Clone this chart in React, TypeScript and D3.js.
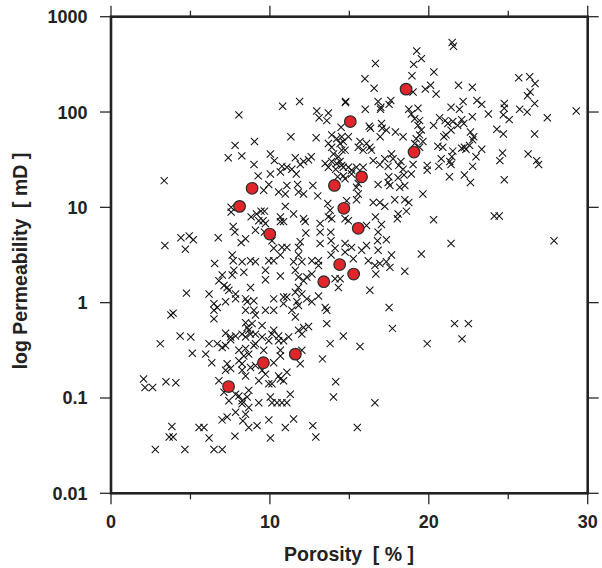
import React from "react";
import * as d3 from "d3";

// Sample data: porosity [%] and log10 permeability [mD]
const porosity: number[] = [
  8.05, 10.8, 11.87, 14.75, 12.95, 13.68, 13.1, 13.58, 14.48, 11.32, 12.91, 7.81, 9.03, 7.38, 8.23, 9.0, 10.03, 10.28, 9.26, 10.03,
  10.76, 11.07, 11.38, 11.6, 11.66, 11.91, 12.12, 12.43, 12.6, 13.89, 13.68, 13.89, 14.2, 14.62, 14.73, 14.0, 14.31, 13.48, 13.89, 14.2,
  14.52, 13.68, 14.14, 14.62, 3.35,
  21.47, 21.55, 19.24, 19.53, 19.05, 16.64, 20.32, 15.98, 18.94, 16.56, 19.01, 19.78, 20.11, 20.46, 21.87, 22.74, 25.66, 26.35, 26.69, 26.38,
  26.21, 26.66, 25.72, 26.19, 27.46, 29.28, 14.77, 16.0, 16.81, 16.98, 17.5, 17.61, 16.96, 18.74, 18.9, 19.32, 19.11, 19.42, 16.25, 16.33,
  17.02, 17.06, 16.94, 17.33, 17.9, 18.38, 19.32, 19.53, 19.42, 19.21, 19.63, 19.42, 19.11, 20.3, 20.68, 21.03, 21.4, 21.93, 22.16, 22.74,
  23.03, 23.33, 23.75, 21.2, 21.51, 21.82, 22.07, 22.2, 21.4, 21.09, 20.95, 24.75, 24.75, 24.69, 25.06, 24.28, 24.69, 26.66, 22.62, 22.83,
  22.76, 22.56, 22.24, 22.07, 22.34, 23.33, 20.57, 20.88, 21.51, 21.45, 20.78, 20.63, 21.32, 21.4, 22.97, 22.76, 22.24, 21.3, 19.9, 19.9,
  19.01, 18.38, 18.9, 18.44, 18.11, 18.24, 17.75, 17.65, 17.23, 17.44, 16.92, 16.5, 16.39, 15.87, 15.87, 15.67, 16.08, 16.29, 15.56, 14.94,
  14.52, 14.42, 14.52, 14.62, 14.94, 15.14, 15.45, 14.42, 24.64, 24.47, 24.75, 26.25, 26.79, 26.91, 17.48,
  3.39, 4.4, 4.92, 5.18, 4.68, 6.75, 10.66, 9.93, 9.61, 10.55, 10.97, 11.07, 11.74, 11.8, 12.12, 12.7, 13.01, 13.64, 14.26, 14.73,
  7.56, 7.56, 8.82, 9.16, 9.44, 9.66, 9.3, 9.57, 9.72, 10.66, 10.86, 10.66, 10.97, 11.49, 12.12, 12.22, 13.16, 13.79, 13.89, 13.68,
  14.73, 7.69, 7.8, 8.19, 8.47, 9.09, 9.66, 10.13, 10.24, 10.76, 11.07, 11.8, 11.91, 12.26, 13.16, 13.16, 13.83, 13.85, 14.1, 14.73,
  13.85, 14.73, 6.52, 7.63, 7.69, 8.25, 8.78, 9.09, 9.93, 10.24, 10.66, 11.49, 11.8, 12.01, 12.64, 13.06, 13.06, 7.0, 6.79, 7.73,
  7.63, 8.36, 9.72, 9.72, 10.66, 11.6, 11.8, 12.12, 12.32, 12.64, 14.1, 14.31, 4.75, 6.17, 7.11, 7.31, 7.42, 7.84, 7.84, 8.78,
  7.21, 6.48, 6.69, 6.48, 6.48, 8.47, 8.57, 8.99, 8.47, 8.99, 9.09, 9.72, 10.24, 10.24, 10.86, 11.07, 10.86, 11.6, 11.8, 12.01,
  11.7, 11.8, 12.32, 12.64, 13.06, 13.48, 13.58, 13.58, 11.38, 11.6, 3.77, 3.91, 4.35, 5.02, 7.21, 7.53, 7.84, 8.47, 8.57, 8.88,
  8.67, 9.09, 9.51, 10.24, 10.55, 11.18, 11.8, 12.12, 12.43, 12.01, 8.47, 14.62,
  15.14, 15.56, 15.45, 15.56, 15.45, 14.83, 16.81, 17.44, 17.55, 18.07, 18.49, 18.17, 22.62, 19.63, 16.5, 16.92, 17.23, 17.86, 18.49, 18.74,
  18.59, 18.07, 18.02, 16.64, 17.02, 16.81, 16.77, 17.33, 16.08, 14.94, 15.14, 15.77, 16.08, 16.81, 17.65, 16.19, 16.61, 16.92, 17.33, 17.55,
  16.67, 18.49, 19.53, 21.4, 20.3, 24.12, 24.43, 27.88, 15.25, 14.42, 16.29, 17.5, 17.71, 21.62, 22.49, 22.09,
  3.1, 5.12, 6.17, 5.96, 6.34, 6.69, 7.0, 7.21, 7.53, 8.25, 8.78, 9.09, 8.47, 8.05, 8.36, 8.67, 8.99, 9.51, 10.13, 9.93,
  10.55, 10.86, 12.01, 11.91, 10.66, 10.66, 10.24, 9.61, 13.79, 13.31, 7.31, 7.21, 7.53, 8.25, 8.47, 8.25, 8.05, 8.78, 9.09, 9.51,
  9.3, 9.72, 10.55, 10.66, 11.07, 10.86, 10.13, 9.93, 6.79, 7.11, 7.42, 7.84, 8.05, 8.25, 8.67, 8.57, 8.25, 8.67, 8.47, 7.84,
  7.31, 6.99, 8.3, 8.67, 9.19, 9.93, 9.3, 10.03, 10.13, 10.45, 10.76, 11.07, 11.28, 11.49, 10.97, 10.03, 7.8, 6.17, 5.54, 5.85,
  3.83, 3.66, 3.91, 2.79, 4.65, 6.48, 7.0, 12.7, 12.89, 14.0, 14.14, 2.05, 2.14, 2.62, 3.46, 4.08,
  15.67, 19.9, 16.61, 15.5,
];

const logPermeability: number[] = [
  1.97, 2.06, 2.11, 2.1, 2.01, 1.99, 1.94, 1.91, 1.84, 1.74, 1.73, 1.65, 1.69, 1.52, 1.54, 1.45, 1.56, 1.49, 1.33, 1.35,
  1.43, 1.42, 1.4, 1.52, 1.35, 1.45, 1.48, 1.5, 1.53, 1.76, 1.67, 1.63, 1.72, 1.69, 1.6, 1.56, 1.53, 1.46, 1.48, 1.46,
  1.44, 1.42, 1.4, 1.33, 1.28,
  2.73, 2.69, 2.64, 2.56, 2.5, 2.51, 2.42, 2.35, 2.38, 2.25, 2.21, 2.24, 2.28, 2.19, 2.28, 2.26, 2.36, 2.37, 2.3, 2.21,
  2.17, 2.09, 2.03, 2.0, 1.94, 2.01, 2.11, 2.03, 2.11, 2.05, 2.08, 2.12, 2.03, 2.03, 1.98, 2.04, 1.93, 1.91, 1.85, 1.83,
  1.88, 1.83, 1.74, 1.81, 1.79, 1.74, 1.86, 1.81, 1.76, 1.72, 1.69, 1.63, 1.67, 1.86, 1.94, 1.91, 2.05, 2.03, 2.11, 1.95,
  2.12, 2.08, 1.98, 1.88, 1.9, 1.86, 1.92, 1.88, 1.81, 1.76, 1.74, 2.09, 2.04, 1.97, 1.92, 1.82, 1.77, 1.77, 1.79, 1.74,
  1.71, 1.65, 1.63, 1.62, 1.61, 1.61, 1.64, 1.63, 1.59, 1.53, 1.51, 1.43, 1.48, 1.45, 1.53, 1.43, 1.34, 1.32, 1.44, 1.39,
  1.45, 1.4, 1.35, 1.34, 1.44, 1.48, 1.51, 1.56, 1.51, 1.43, 1.45, 1.49, 1.6, 1.6, 1.42, 1.69, 1.67, 1.63, 1.63, 1.74,
  1.74, 1.67, 1.6, 1.42, 1.42, 1.39, 1.42, 1.48, 1.57, 1.49, 1.29, 1.56, 1.49, 1.45, 1.32,
  0.6, 0.68, 0.7, 0.66, 0.56, 0.68, 1.37, 1.24, 1.18, 1.16, 1.14, 1.23, 1.24, 1.16, 1.14, 1.23, 1.12, 1.04, 1.32, 1.3,
  1.0, 0.95, 0.9, 0.93, 0.96, 0.96, 0.86, 0.86, 0.83, 0.9, 0.85, 0.85, 1.01, 0.93, 0.88, 0.85, 0.83, 0.97, 0.88, 0.9,
  0.88, 0.8, 0.74, 0.63, 0.67, 0.76, 0.74, 0.65, 0.57, 0.58, 0.58, 0.58, 0.64, 0.73, 0.74, 0.62, 0.74, 0.65, 0.57, 0.62,
  0.5, 0.53, 0.41, 0.5, 0.44, 0.43, 0.44, 0.43, 0.44, 0.44, 0.5, 0.43, 0.5, 0.43, 0.44, 0.44, 0.39, 0.29, 0.23, 0.34,
  0.29, 0.32, 0.34, 0.24, 0.28, 0.34, 0.27, 0.23, 0.27, 0.3, 0.25, 0.16, 0.1, 0.09, 0.18, 0.16, 0.13, 0.09, 0.04, 0.16,
  0.01, -0.01, -0.05, -0.08, -0.17, 0.04, 0.01, 0.02, -0.08, -0.08, -0.13, -0.08, 0.04, -0.08, 0.06, 0.06, -0.01, 0.11, 0.16, 0.09,
  0.01, -0.03, 0.04, 0.01, 0.07, -0.05, -0.08, -0.22, -0.08, -0.15, -0.13, -0.11, -0.35, -0.36, -0.32, -0.36, -0.35, -0.21, -0.26, -0.22,
  -0.29, -0.33, -0.24, -0.29, -0.35, -0.36, -0.29, -0.26, -0.25, -0.33, -0.36, -0.35,
  1.35, 1.25, 1.21, 1.14, 1.08, 1.07, 1.24, 1.26, 1.23, 1.31, 1.23, 1.21, 1.26, 1.14, 1.05, 1.05, 1.01, 1.08, 1.08, 1.05,
  0.96, 0.93, 0.88, 0.9, 0.82, 0.74, 0.65, 0.66, 0.81, 0.86, 0.58, 0.55, 0.6, 0.55, 0.5, 0.44, 0.39, 0.41, 0.43, 0.37,
  0.3, 0.33, 0.51, 0.62, 0.87, 0.91, 0.91, 0.65, 0.46, 0.25, 0.13, -0.05, -0.27, -0.22, -0.22, -0.38,
  -0.43, -0.53, -0.43, -0.54, -0.63, -0.43, -0.47, -0.45, -0.39, -0.33, -0.33, -0.43, -0.48, -0.5, -0.56, -0.54, -0.45, -0.36, -0.33, -0.4,
  -0.4, -0.4, -0.5, -0.64, -0.5, -0.56, -0.63, -0.5, -0.43, -0.59, -0.64, -0.71, -0.69, -0.71, -0.77, -0.64, -0.61, -0.68, -0.66, -0.71,
  -0.82, -0.75, -0.77, -0.8, -0.73, -0.82, -0.85, -0.85, -0.82, -0.94, -1.03, -0.96, -0.98, -1.03, -0.92, -0.99, -1.06, -1.1, -1.17, -1.15,
  -1.2, -1.23, -1.24, -1.31, -1.29, -1.23, -1.05, -0.99, -1.05, -1.05, -1.05, -1.05, -0.96, -1.22, -1.31, -1.42, -1.4, -1.42, -1.31, -1.31,
  -1.3, -1.41, -1.41, -1.54, -1.54, -1.54, -1.54, -1.29, -1.41, -0.99, -0.83, -0.8, -0.89, -0.89, -0.83, -0.84,
  -0.46, -0.43, -1.05, -1.31,
];

// Highlighted samples (red circles)
const corePorosity: number[] = [18.57, 15.06, 19.07, 8.88, 14.06, 15.77, 8.09, 14.65, 9.99, 15.56, 14.39, 13.39, 15.27, 11.6, 9.59, 7.4];
const coreLogPermeability: number[] = [2.24, 1.9, 1.58, 1.2, 1.23, 1.32, 1.01, 0.99, 0.72, 0.78, 0.4, 0.22, 0.3, -0.54, -0.63, -0.88];

const yTicks: number[] = [0.01, 0.1, 1, 10, 100, 1000];
const yTickLabels: string[] = ["0.01", "0.1", "1", "10", "100", "1000"];
const xMajorTicks: number[] = [0, 10, 20, 30];
const xMinorTicks: number[] = [5, 15, 25];
const xLabel = "Porosity  [ % ]";
const yLabel = "log Permeability  [ mD ]";

const W = 602;
const H = 568;
const LEFT = 111;
const RIGHT = 587.7;
const TOP = 16.7;
const BOTTOM = 493.3;
const FONT = "'Liberation Sans', Arial, Helvetica, sans-serif";

export default function App() {
  const x = d3.scaleLinear().domain([0, 30]).range([LEFT, RIGHT]);
  const y = d3.scaleLog().domain([0.01, 1000]).range([BOTTOM, TOP]);

  const samples = porosity.map((p, i) => ({ p, k: Math.pow(10, logPermeability[i]) }));
  const cores = corePorosity.map((p, i) => ({ p, k: Math.pow(10, coreLogPermeability[i]) }));

  const cs = 3.6;
  const crossPath = `M${-cs},${-cs}L${cs},${cs}M${-cs},${cs}L${cs},${-cs}`;
  const tickColor = "#2a2a2a";
  const MAJ = 11;
  const MIN = 6;

  return (
    <svg
      width={W}
      height={H}
      style={{ position: "absolute", left: 0, top: 0, background: "#fff" }}
      fontFamily={FONT}
    >
      <rect x={0} y={0} width={W} height={H} fill="#fff" />
      {/* sample crosses */}
      <g stroke="#111" strokeWidth={1.05} fill="none">
        {samples.map((d, i) =>
          samples[i].k > 0 ? (
            <path key={i} d={crossPath} transform={`translate(${x(d.p)},${y(d.k)})`} />
          ) : null
        )}
      </g>
      {/* highlighted circles */}
      <g>
        {cores.map((d, i) => (
          <circle key={i} cx={x(d.p)} cy={y(d.k)} r={5.8} fill="#e0262a" stroke="#2a2a2a" strokeWidth={1.2} />
        ))}
      </g>
      {/* ticks */}
      <g stroke={tickColor} strokeWidth={1.3}>
        {yTicks.map((t) => (
          <g key={"y" + t}>
            <line x1={LEFT - MAJ} x2={LEFT} y1={y(t)} y2={y(t)} />
            <line x1={RIGHT} x2={RIGHT + MAJ} y1={y(t)} y2={y(t)} />
          </g>
        ))}
        {xMajorTicks.map((t) => (
          <g key={"xM" + t}>
            <line x1={x(t)} x2={x(t)} y1={BOTTOM} y2={BOTTOM + MAJ} />
            <line x1={x(t)} x2={x(t)} y1={TOP} y2={TOP - MAJ} />
          </g>
        ))}
        {xMinorTicks.map((t) => (
          <g key={"xm" + t}>
            <line x1={x(t)} x2={x(t)} y1={BOTTOM} y2={BOTTOM + MIN} />
            <line x1={x(t)} x2={x(t)} y1={TOP} y2={TOP - MIN} />
          </g>
        ))}
      </g>
      {/* frame */}
      <rect
        x={LEFT}
        y={TOP}
        width={RIGHT - LEFT}
        height={BOTTOM - TOP}
        fill="none"
        stroke="#222"
        strokeWidth={2.6}
      />
      {/* tick labels */}
      <g fontSize={18} fontWeight="bold" fill="#222">
        {yTicks.map((t, i) => (
          <text key={"yl" + t} x={87.5} y={y(t)} dy="0.36em" textAnchor="end">
            {yTickLabels[i]}
          </text>
        ))}
        {xMajorTicks.map((t) => (
          <text key={"xl" + t} x={x(t)} y={528} textAnchor="middle">
            {String(t)}
          </text>
        ))}
      </g>
      {/* axis titles */}
      <text x={349} y={561} textAnchor="middle" fontSize={19.5} fontWeight="bold" fill="#222" style={{ whiteSpace: "pre" }}>
        {xLabel}
      </text>
      <text
        transform={`translate(27,261) rotate(-90)`}
        textAnchor="middle"
        fontSize={19.5}
        fontWeight="bold"
        fill="#222"
        style={{ whiteSpace: "pre" }}
      >
        {yLabel}
      </text>
    </svg>
  );
}
